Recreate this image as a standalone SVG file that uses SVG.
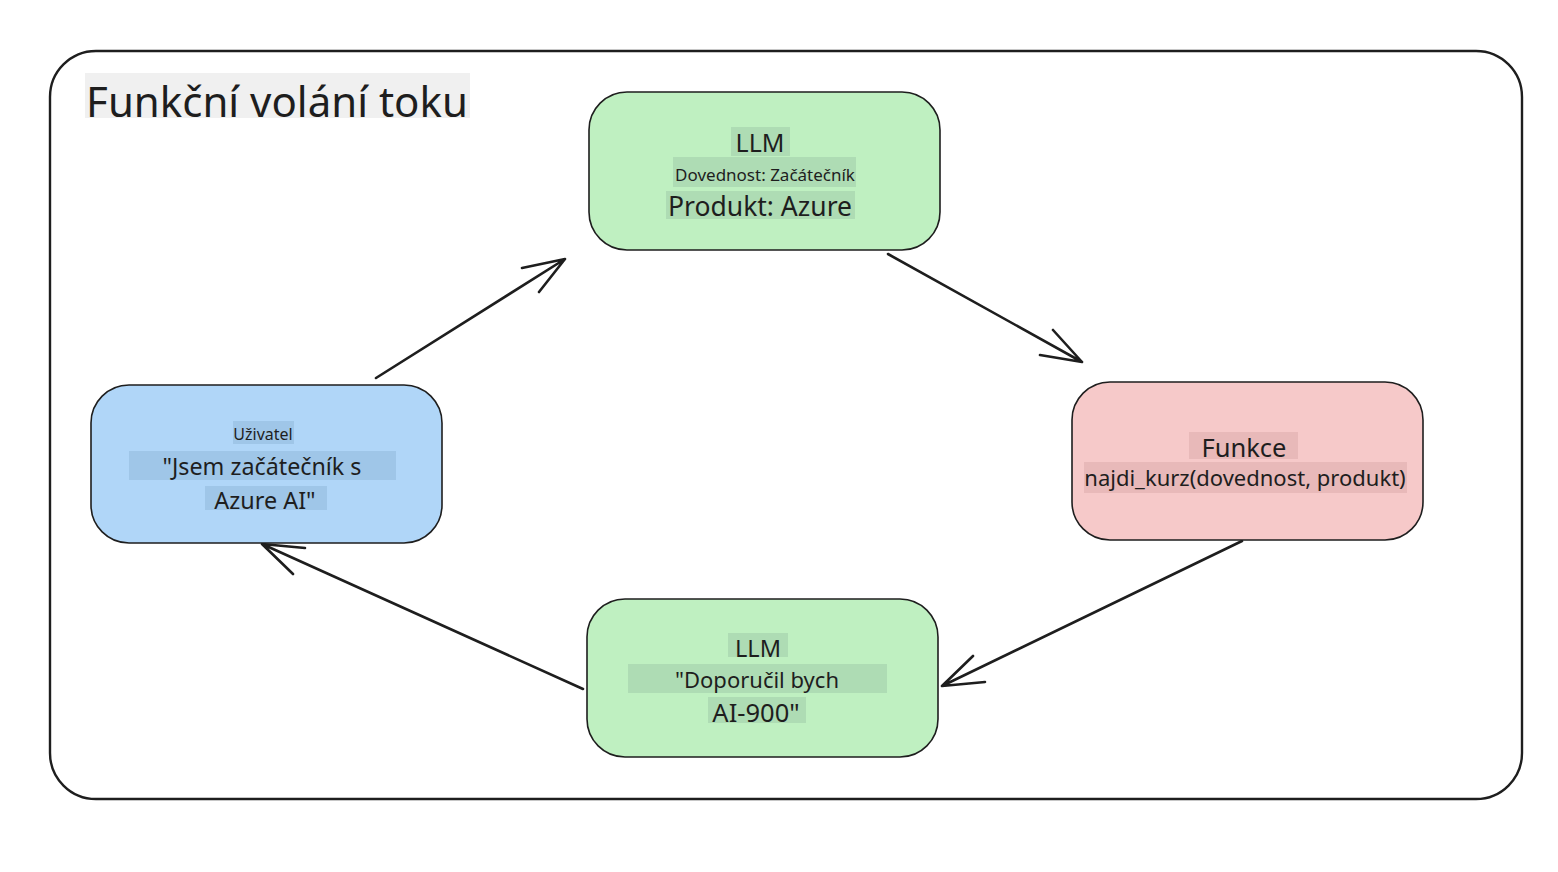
<svg xmlns="http://www.w3.org/2000/svg" width="1558" height="872" viewBox="0 0 1558 872">
<style>
text{font-family:"Noto Sans","Open Sans","DejaVu Sans",sans-serif;fill:#1e1e1e;text-anchor:middle}
.node{stroke:#1e1e1e;stroke-width:1.6}
.arrow{fill:none;stroke:#1e1e1e;stroke-width:2.6;stroke-linecap:round;stroke-linejoin:round}
.hg{fill:#aedcb4}
.hb{fill:#9fc6e8}
.hr{fill:#e8b9b9}
</style>
<rect width="1558" height="872" fill="#ffffff"/>
<g id="frame">
<rect x="50" y="51" width="1472" height="748" rx="46" fill="none" stroke="#1e1e1e" stroke-width="2.4"/>
<rect x="85" y="73" width="385" height="45" fill="#f0f0f0"/>
<text x="277" y="117" font-size="42">Funkční volání toku</text>
</g>
<g id="connectors">
<path class="arrow" d="M376 378 L565 259 M522 268 L565 259 L539 292"/>
<path class="arrow" d="M888 254 L1082 362 M1053 330 L1082 362 L1040 355"/>
<path class="arrow" d="M1242 541 L942 686 M973 656 L942 686 L985 682"/>
<path class="arrow" d="M583 689 L262 544 M305 548 L262 544 L293 574"/>
</g>
<g id="llm-top">
<rect class="node" x="589" y="92" width="351" height="158" rx="38" fill="#bff0c1"/>
<rect class="hg" x="731" y="127" width="59" height="29"/>
<text x="760" y="152" font-size="25">LLM</text>
<rect class="hg" x="673" y="157" width="183" height="30"/>
<text x="765" y="181" font-size="17">Dovednost: Začátečník</text>
<rect class="hg" x="666" y="191" width="189" height="28"/>
<text x="760" y="216" font-size="26.5">Produkt: Azure</text>
</g>
<g id="user">
<rect class="node" x="91" y="385" width="351" height="158" rx="38" fill="#b0d6f8"/>
<rect class="hb" x="233" y="421" width="61" height="23"/>
<text x="263" y="440" font-size="16">Uživatel</text>
<rect class="hb" x="129" y="451" width="267" height="29"/>
<text x="262" y="475" font-size="23.3">"Jsem začátečník s</text>
<rect class="hb" x="205" y="486" width="122" height="24"/>
<text x="265" y="509" font-size="23.4">Azure AI"</text>
</g>
<g id="function">
<rect class="node" x="1072" y="382" width="351" height="158" rx="38" fill="#f6c9c9"/>
<rect class="hr" x="1189" y="432" width="109" height="27"/>
<text x="1244" y="457" font-size="25.5">Funkce</text>
<rect class="hr" x="1084" y="462" width="323" height="31"/>
<text x="1245" y="486" font-size="22">najdi_kurz(dovednost, produkt)</text>
</g>
<g id="llm-bottom">
<rect class="node" x="587" y="599" width="351" height="158" rx="38" fill="#bff0c1"/>
<rect class="hg" x="728" y="633" width="60" height="24"/>
<text x="758" y="657" font-size="23.5">LLM</text>
<rect class="hg" x="628" y="664" width="259" height="29"/>
<text x="757" y="688" font-size="22">"Doporučil bych</text>
<rect class="hg" x="708" y="697" width="98" height="26"/>
<text x="756" y="722" font-size="25.5">AI-900"</text>
</g>
</svg>
